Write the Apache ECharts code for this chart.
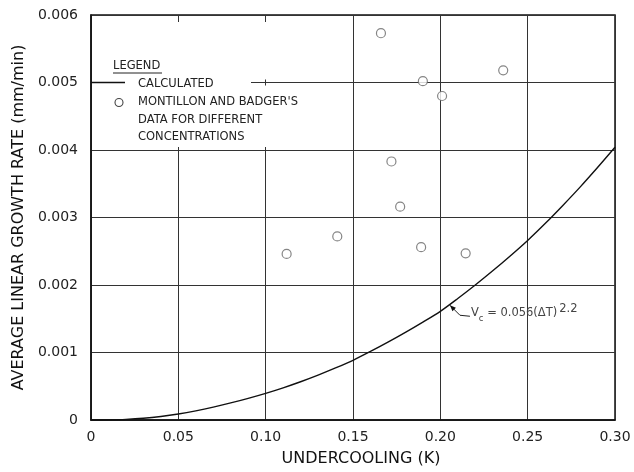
<!DOCTYPE html>
<html>
<head>
<meta charset="utf-8">
<script src="https://cdn.jsdelivr.net/npm/echarts@6/dist/echarts.min.js"></script>
<style>html,body{margin:0;padding:0;background:#fff;}#c{width:634px;height:472px;}</style>
</head>
<body>
<div id="c"></div>
<script>
// Calculated curve (undercooling K, growth mm/min)
const curveX = [0, 0.01, 0.02, 0.03, 0.04, 0.05, 0.06, 0.07, 0.08, 0.09, 0.10, 0.11, 0.12, 0.13, 0.14, 0.15, 0.16, 0.17, 0.18, 0.19, 0.20, 0.21, 0.22, 0.23, 0.24, 0.25, 0.26, 0.27, 0.28, 0.29, 0.30];
const curveY = [0, 0.000002, 0.000009, 0.000025, 0.000052, 0.000089, 0.000136, 0.000191, 0.000253, 0.000321, 0.000395, 0.000477, 0.000567, 0.000665, 0.000771, 0.000885, 0.001015, 0.001153, 0.001298, 0.001450, 0.001610, 0.001800, 0.002000, 0.002210, 0.002430, 0.002660, 0.002910, 0.003175, 0.003450, 0.003740, 0.004040];
// Montillon and Badger's data
const dataX = [0.112, 0.141, 0.166, 0.172, 0.177, 0.189, 0.190, 0.201, 0.2145, 0.236];
const dataY = [0.00246, 0.00272, 0.00573, 0.00383, 0.00316, 0.00256, 0.00502, 0.00480, 0.00247, 0.00518];
const xTickLabels = ['0', '0.05', '0.10', '0.15', '0.20', '0.25', '0.30'];
const yTickLabels = ['0', '0.001', '0.002', '0.003', '0.004', '0.005', '0.006'];
const legendTitle = 'LEGEND';
const legendLines = ['CALCULATED', "MONTILLON AND BADGER'S", 'DATA FOR DIFFERENT', 'CONCENTRATIONS'];
const annotationPoint = [0.2055, 0.00170];

const FONT = 'DejaVu Sans';
const chart = echarts.init(document.getElementById('c'), null, {renderer: 'canvas'});

const curveData = curveX.map((x, i) => [x, curveY[i]]);
const pointData = dataX.map((x, i) => [x, dataY[i]]);

chart.setOption({
  animation: false,
  backgroundColor: '#fff',
  grid: {left: 91, right: 19, top: 15, bottom: 49, show: true, borderColor: '#111', borderWidth: 1.5, backgroundColor: 'transparent'},
  xAxis: {
    type: 'value', min: 0, max: 0.3, interval: 0.05,
    name: 'UNDERCOOLING (K)', nameLocation: 'middle', nameGap: 31,
    nameTextStyle: {fontFamily: FONT, fontSize: 16, color: '#111', padding: [0, 0, 0, 16]},
    axisLine: {show: true, lineStyle: {color: '#111', width: 1.5}},
    axisTick: {show: false},
    axisLabel: {fontFamily: FONT, fontSize: 14, color: '#222', margin: 10,
      formatter: v => xTickLabels[Math.round(v / 0.05)] || ''},
    splitLine: {show: true, lineStyle: {color: '#333', width: 1}}
  },
  yAxis: {
    type: 'value', min: 0, max: 0.006, interval: 0.001,
    name: 'AVERAGE LINEAR GROWTH RATE (mm/min)', nameLocation: 'middle', nameGap: 62,
    nameTextStyle: {fontFamily: FONT, fontSize: 16, color: '#111'},
    axisLine: {show: true, lineStyle: {color: '#111', width: 1.5}},
    axisTick: {show: false},
    axisLabel: {fontFamily: FONT, fontSize: 14, color: '#222', margin: 13,
      formatter: v => yTickLabels[Math.round(v / 0.001)] || ''},
    splitLine: {show: true, lineStyle: {color: '#333', width: 1}}
  },
  series: [
    {type: 'line', data: curveData, showSymbol: false, smooth: 0.3, z: 3,
      lineStyle: {color: '#111', width: 1.4}},
    {type: 'scatter', data: pointData, symbol: 'circle', symbolSize: 9, z: 4,
      itemStyle: {color: '#fff', borderColor: '#666', borderWidth: 1.2}}
  ]
});

// annotation and legend
const tip = chart.convertToPixel({gridIndex: 0}, annotationPoint);
const y005 = chart.convertToPixel({yAxisIndex: 0}, 0.005);
const y004 = chart.convertToPixel({yAxisIndex: 0}, 0.004);
const x0 = chart.convertToPixel({xAxisIndex: 0}, 0);
const legendFont = {fontFamily: FONT, fontSize: 11.5, fill: '#222'};

chart.setOption({
  graphic: [
    // white backgrounds behind legend text
    {type: 'rect', shape: {x: x0 + 4, y: 22, width: 156, height: y004 - 25}, style: {fill: '#fff'}, z: 10},
    {type: 'rect', shape: {x: x0 + 159, y: y005 + 3, width: 63, height: y004 - y005 - 6}, style: {fill: '#fff'}, z: 10},
    {type: 'rect', shape: {x: x0 + 159, y: 22, width: 63, height: y005 - 25}, style: {fill: '#fff'}, z: 10},
    {type: 'line', shape: {x1: x0, y1: y005, x2: x0 + 34, y2: y005}, style: {stroke: '#111', lineWidth: 1.5}, z: 11},
    {type: 'text', x: x0 + 22, y: 66, style: Object.assign({text: legendTitle, verticalAlign: 'middle'}, legendFont), z: 11},
    {type: 'line', shape: {x1: x0 + 22, y1: 73, x2: x0 + 71, y2: 73}, style: {stroke: '#222', lineWidth: 1}, z: 11},
    {type: 'text', x: x0 + 47, y: y005 + 2, style: Object.assign({text: legendLines[0], verticalAlign: 'middle'}, legendFont), z: 11},
    {type: 'circle', shape: {cx: x0 + 28, cy: y005 + 20, r: 4}, style: {fill: '#fff', stroke: '#444', lineWidth: 1.1}, z: 11},
    {type: 'text', x: x0 + 47, y: y005 + 20, style: Object.assign({text: legendLines[1], verticalAlign: 'middle'}, legendFont), z: 11},
    {type: 'text', x: x0 + 47, y: y005 + 38, style: Object.assign({text: legendLines[2], verticalAlign: 'middle'}, legendFont), z: 11},
    {type: 'text', x: x0 + 47, y: y005 + 55, style: Object.assign({text: legendLines[3], verticalAlign: 'middle'}, legendFont), z: 11},
    // annotation leader
    {type: 'polyline', shape: {points: [[tip[0], tip[1]], [tip[0] + 10, tip[1] + 10], [tip[0] + 20, tip[1] + 11]]}, style: {stroke: '#222', lineWidth: 1, fill: null}, z: 11},
    {type: 'polygon', shape: {points: [[tip[0], tip[1]], [tip[0] + 6, tip[1] + 2.5], [tip[0] + 2.5, tip[1] + 6]]}, style: {fill: '#111'}, z: 11},
    {type: 'text', x: tip[0] + 21, y: tip[1] + 8, z: 11,
      style: {
        text: '{v|V}{s|c}{m| = 0.056(ΔT)}{p|2.2}',
        verticalAlign: 'middle',
        rich: {
          v: {fontFamily: FONT, fontSize: 11.5, fill: '#444', lineHeight: 20},
          s: {fontFamily: FONT, fontSize: 8.5, fill: '#444', verticalAlign: 'bottom', lineHeight: 20},
          m: {fontFamily: FONT, fontSize: 11.5, fill: '#444', lineHeight: 20},
          p: {fontFamily: FONT, fontSize: 11.5, fill: '#444', verticalAlign: 'top', lineHeight: 20, padding: [0, 0, 0, 2]}
        }
      }}
  ]
});
</script>
</body>
</html>
